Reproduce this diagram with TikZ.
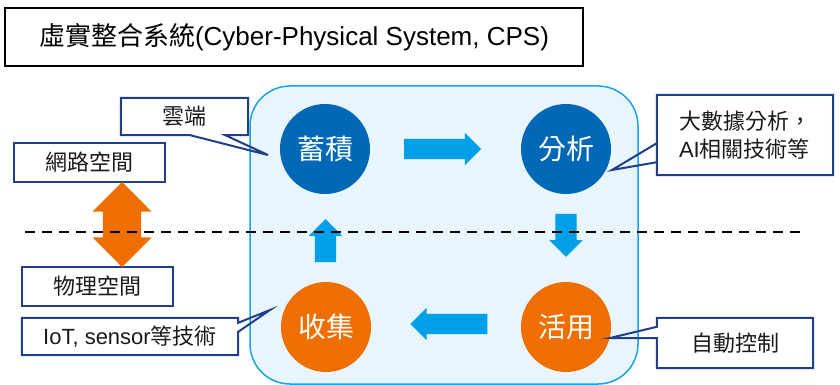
\documentclass[tikz,border=0pt]{standalone}
\usepackage{fontspec}
\setmainfont{Liberation Sans}
\newfontfamily\cjk{Noto Sans CJK TC}
\usetikzlibrary{shapes.arrows,calc}

\definecolor{cpsblue}{HTML}{0068B7}
\definecolor{cpsorange}{HTML}{EE6F00}
\definecolor{flowblue}{HTML}{00A0E9}
\definecolor{panelfill}{HTML}{E8F5FD}
\definecolor{panelline}{HTML}{1AA3E8}
\definecolor{tagnavy}{HTML}{1F3E8C}
\definecolor{tagtext}{HTML}{1A1A1A}

\tikzset{
  stage/.style={circle,minimum size=90pt,inner sep=0pt,text=white,font=\cjk\fontsize{28}{32}\selectfont},
  flow/.style={single arrow,fill=flowblue,inner xsep=0pt,single arrow head extend=6pt,xshift=-8pt},
  tagbox/.style={inner sep=0pt,text=tagtext,font=\fontsize{22}{28}\selectfont},
  tagedge/.style={draw=tagnavy,line width=2pt,line join=miter},
}

\begin{document}
\begin{tikzpicture}[x=1pt,y=-1pt]
		\useasboundingbox (0,0) rectangle (840,385);
		
		% title
		\node[draw=black,line width=1.5pt,minimum width=578pt,minimum height=58pt,inner sep=0pt,font=\fontsize{26}{30}\selectfont] (title) at (294,37) {{\cjk 虛實整合系統}(Cyber-Physical System, CPS)};
		
		% the loop panel
		\draw[fill=panelfill,draw=panelline,line width=1.5pt,rounded corners=40pt] (250,86) rectangle (638,384);
		
		\node[stage,fill=cpsblue] (store) at (325,149) {蓄積};
		\node[stage,fill=cpsblue] (analyze) at (566,149) {分析};
		\node[stage,fill=cpsorange] (apply) at (566,327) {活用};
		\node[stage,fill=cpsorange] (collect) at (326,327) {收集};
		
		\node[flow,minimum height=77pt,inner ysep=10pt] (f1) at ($(store)!0.5!(analyze)$) {};
		\node[rotate=-90,flow,minimum height=43pt,inner ysep=10.5pt] (f2) at ($(analyze)!0.5!(apply)$) {};
		\node[rotate=180,flow,minimum height=77pt,inner ysep=10pt] (f3) at ($(apply)!0.5!(collect)+(0,-3)$) {};
		\node[rotate=90,flow,minimum height=43pt,inner ysep=10.5pt] (f4) at ($(collect)!0.5!(store)$) {};
		
		% labels round the loop
		\node[tagbox,minimum width=127pt,minimum height=37pt] (cloud) at (184.5,116.5) {\cjk 雲端};
		\coordinate (cloudtip) at (268,155);
		\draw[tagedge] (cloud.south west) -- (cloud.north west) -- (cloud.north east) -- (cloud.south east) -- ([xshift=-23pt]cloud.south east) -- (cloudtip) -- ([xshift=-58pt]cloud.south east) -- cycle;
		
		\node[tagbox,minimum width=176pt,minimum height=80pt,align=left] (bigdata) at (745,135) {{\cjk 大數據分析，}\\AI{\cjk 相關技術等}};
		\coordinate (bigdatatip) at (612,170);
		\draw[tagedge] (bigdata.south west) -- (bigdata.north west) -- (bigdata.north east) -- (bigdata.south east) -- (bigdata.south west) -- ([yshift=13pt]bigdata.south west) -- (bigdatatip) -- ([yshift=32pt]bigdata.south west) -- cycle;
		
		\node[tagbox,minimum width=216pt,minimum height=37pt] (iot) at (130,336.5) {IoT, sensor{\cjk 等技術}};
		\coordinate (iottip) at (270,310);
		\draw[tagedge] (iot.north west) -- (iot.north east) -- ([yshift=-5pt]iot.north east) -- (iottip) -- ([yshift=-14pt]iot.north east) -- (iot.south east) -- (iot.south west) -- cycle;
		
		\node[tagbox,minimum width=156pt,minimum height=50pt] (control) at (735,343) {\cjk 自動控制};
		\coordinate (controltip) at (610,338);
		\draw[tagedge] (control.south west) -- ([yshift=30pt]control.south west) -- (controltip) -- ([yshift=-9pt]control.north west) -- (control.north west) -- (control.north east) -- (control.south east) -- cycle;
		
		% cyber / physical
		\node[tagbox,tagedge,minimum width=151pt,minimum height=39pt] (cyber) at (89.5,162.5) {\cjk 網路空間};
		\node[tagbox,tagedge,minimum width=151pt,minimum height=39pt] (physical) at (97.5,286.5) {\cjk 物理空間};
		\node[double arrow,fill=cpsorange,rotate=90,minimum height=85pt,inner ysep=19pt,inner xsep=0pt,double arrow head extend=10.5pt] (link) at (122,224.5) {};
		
		\coordinate (cutL) at (25,232);
		\coordinate (cutR) at (800,232);
		\draw[line width=2.5pt,dash pattern=on 10pt off 7pt] (cutL) -- (cutR);
		
	\end{tikzpicture}
\end{document}
